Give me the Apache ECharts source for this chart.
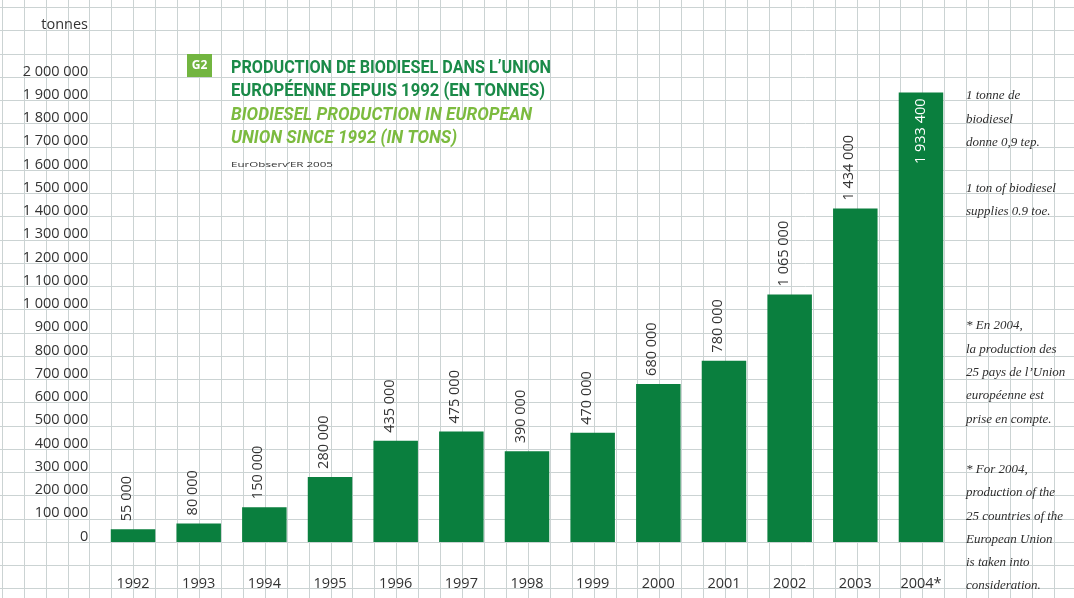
<!DOCTYPE html>
<html>
<head>
<meta charset="utf-8">
<script src="https://cdn.jsdelivr.net/npm/echarts@6/dist/echarts.min.js"></script>
<style>
  html, body { margin: 0; padding: 0; background: #fff; }
  #chart { width: 1074px; height: 598px; }
</style>
</head>
<body>
<div id="chart"></div>
<script>
// Biodiesel production in the EU, tonnes
const years = ['1992', '1993', '1994', '1995', '1996', '1997', '1998', '1999', '2000', '2001', '2002', '2003', '2004*'];
const production = [55000, 80000, 150000, 280000, 435000, 475000, 390000, 470000, 680000, 780000, 1065000, 1434000, 1933400];

// y scale: labelled ticks from 0 to 2 000 000 every 100 000
const yLabelMax = 2000000;
const yStep = 100000;

// title block
const titleFr = ['PRODUCTION DE BIODIESEL DANS L\u2019UNION', 'EUROPÉENNE DEPUIS 1992 (EN TONNES)'];
const titleEn = ['BIODIESEL PRODUCTION IN EUROPEAN', 'UNION SINCE 1992 (IN TONS)'];
const badge = 'G2';
const source = 'EurObserv\u2019ER 2005';
const unitName = 'tonnes';

// side notes
const noteFr1 = ['1 tonne de', 'biodiesel', 'donne 0,9 tep.'];
const noteEn1 = ['1 ton of biodiesel', 'supplies 0.9 toe.'];
const noteFr2 = ['* En 2004,', 'la production des', '25 pays de l\u2019Union', 'européenne est', 'prise en compte.'];
const noteEn2 = ['* For 2004,', 'production of the', '25 countries of the', 'European Union', 'is taken into', 'consideration.'];

const SANS = '"Open Sans", "Noto Sans", sans-serif';
const COND = 'Roboto, "Noto Sans", sans-serif';
const SERIF = '"Liberation Serif", "DejaVu Serif", serif';
const BAR_GREEN = '#0a7f3e';
const DARK_GREEN = '#1a8a48';
const LIGHT_GREEN = '#7cbb3f';
const RULE = '#cbd3d3';

function fmt(v) {
  return String(v).replace(/\B(?=(\d{3})+(?!\d))/g, ' ');
}

// horizontal squeeze factor so a line of heading text spans a given width
const measureCtx = document.createElement('canvas').getContext('2d');
function squeeze(text, font, width) {
  measureCtx.font = font;
  return width / measureCtx.measureText(text).width;
}

function headingLine(text, y, right, italic, color) {
  const font = (italic ? 'italic ' : '') + 'bold 18px ' + COND;
  return {
    type: 'text', x: 231, y: y, scaleX: squeeze(text, font, right - 231),
    style: {
      text: text, fill: color, fontSize: 18, fontWeight: 'bold',
      fontStyle: italic ? 'italic' : 'normal', fontFamily: COND,
      align: 'left', verticalAlign: 'middle'
    },
    z: 10
  };
}

function noteBlock(lines, firstCenter) {
  const lh = 23.3;
  return {
    type: 'text', x: 966, y: firstCenter - lh / 2,
    style: {
      text: lines.join('\n'), fill: '#2e2e2e', fontSize: 13, fontStyle: 'italic',
      fontFamily: SERIF, lineHeight: lh, align: 'left', verticalAlign: 'top'
    },
    z: 10
  };
}

const lastIdx = production.length - 1;
const barData = production.map((v, i) => i === lastIdx ? {
  value: v,
  label: {
    position: 'insideTop', align: 'right', verticalAlign: 'middle',
    distance: 6, color: '#ffffff', offset: [0, 0]
  }
} : v);

const chart = echarts.init(document.getElementById('chart'), null, { renderer: 'canvas' });

chart.setOption({
  animation: false,
  backgroundColor: '#ffffff',
  grid: [
    { left: 0, right: 0, top: 7.25, bottom: 9.5 },      // ruled rows
    { left: 2, right: 0, top: 0, bottom: 0 },            // ruled columns
    { left: 100.2, right: 120.2, top: 7.25, bottom: 56 } // bars
  ],
  xAxis: [
    { gridIndex: 0, type: 'value', min: 0, max: 1,
      axisLine: { show: false }, axisTick: { show: false }, axisLabel: { show: false }, splitLine: { show: false } },
    { gridIndex: 1, type: 'value', min: 0, max: 1072, interval: 21.92,
      axisLine: { show: false }, axisTick: { show: false }, axisLabel: { show: false },
      splitLine: { show: true, lineStyle: { color: RULE, width: 1 } } },
    { gridIndex: 2, type: 'category', data: years,
      axisLine: { show: false }, axisTick: { show: false },
      axisLabel: { margin: 34, color: '#333', fontSize: 14.5, fontFamily: SANS },
      splitLine: { show: false } }
  ],
  yAxis: [
    { gridIndex: 0, type: 'value', min: -2 * yStep, max: 23 * yStep, interval: yStep,
      axisLine: { show: false }, axisTick: { show: false }, axisLabel: { show: false },
      splitLine: { show: true, lineStyle: { color: RULE, width: 1 } } },
    { gridIndex: 1, type: 'value', min: 0, max: 1,
      axisLine: { show: false }, axisTick: { show: false }, axisLabel: { show: false }, splitLine: { show: false } },
    { gridIndex: 2, type: 'value', min: 0, max: 23 * yStep, interval: yStep,
      axisLine: { show: false }, axisTick: { show: false }, splitLine: { show: false },
      axisLabel: {
        margin: 12, color: '#333', fontSize: 14.5, fontFamily: SANS,
        verticalAlign: 'bottom', lineHeight: 11,
        formatter: v => v <= yLabelMax ? fmt(v) : ''
      } }
  ],
  series: [{
    type: 'bar', xAxisIndex: 2, yAxisIndex: 2,
    data: barData, barWidth: 44.5, silent: true,
    itemStyle: { color: BAR_GREEN },
    label: {
      show: true, position: 'top', rotate: 90, align: 'left', verticalAlign: 'middle',
      distance: 8, offset: [0, -6], color: '#333', fontSize: 14.5, fontFamily: SANS,
      formatter: p => fmt(p.value)
    }
  }],
  graphic: [
    { type: 'text', x: 88, y: 25, style: { text: unitName, fill: '#333', fontSize: 14.5, fontFamily: SANS, align: 'right', verticalAlign: 'middle' }, z: 10 },
    { type: 'rect', shape: { x: 187, y: 54, width: 25, height: 23 }, style: { fill: '#72b540' }, z: 10 },
    { type: 'text', x: 199.5, y: 65.5, style: { text: badge, fill: '#ffffff', fontSize: 12, fontWeight: 'bold', fontFamily: SANS, align: 'center', verticalAlign: 'middle' }, z: 11 },
    headingLine(titleFr[0], 68.5, 551, false, DARK_GREEN),
    headingLine(titleFr[1], 91.7, 545, false, DARK_GREEN),
    headingLine(titleEn[0], 115, 532, true, LIGHT_GREEN),
    headingLine(titleEn[1], 138.3, 457, true, LIGHT_GREEN),
    { type: 'text', x: 231, y: 165, scaleX: squeeze(source, '8px ' + SANS, 102),
      style: { text: source, fill: '#333', fontSize: 8, fontFamily: SANS, align: 'left', verticalAlign: 'middle' }, z: 10 },
    noteBlock(noteFr1, 96),
    noteBlock(noteEn1, 188.5),
    noteBlock(noteFr2, 326),
    noteBlock(noteEn2, 469.5)
  ]
});
</script>
</body>
</html>
